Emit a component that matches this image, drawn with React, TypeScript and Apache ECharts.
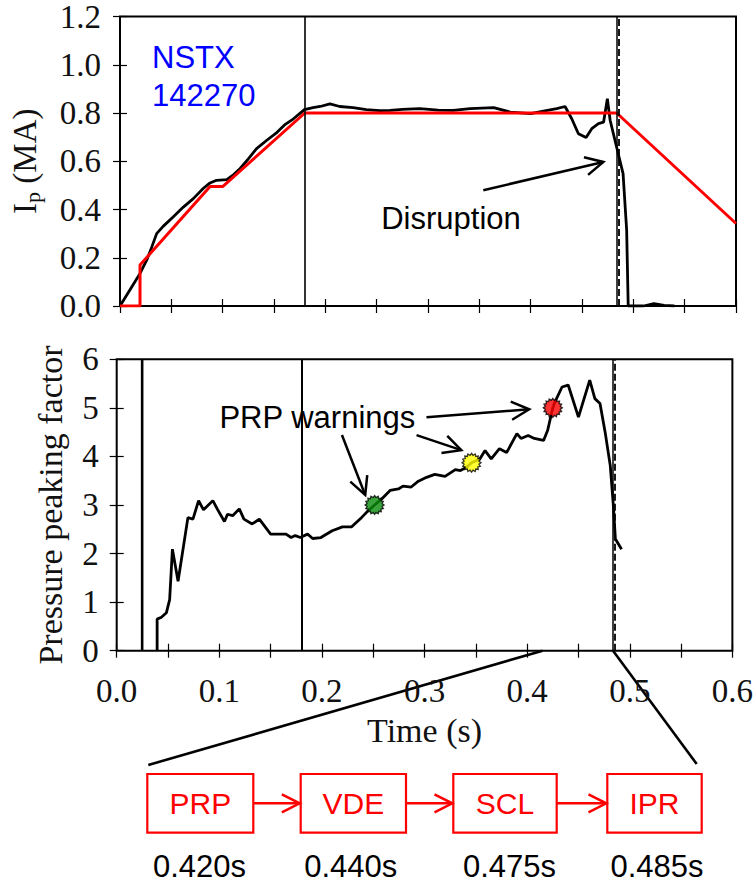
import React, { useEffect, useRef } from 'react';
import * as echarts from 'echarts';

// ---------- data ----------
// Measured plasma current Ip (MA) vs time (s)
const ipMeasured: [number, number][] = [
  [0, 0], [0.0195, 0.135], [0.026, 0.19], [0.031, 0.245], [0.0357, 0.3], [0.042, 0.33],
  [0.052, 0.37], [0.0617, 0.41], [0.0714, 0.445], [0.081, 0.487], [0.0877, 0.51],
  [0.094, 0.521], [0.104, 0.524], [0.11, 0.542], [0.117, 0.57], [0.125, 0.61],
  [0.133, 0.652], [0.143, 0.687], [0.153, 0.72], [0.161, 0.753], [0.169, 0.776],
  [0.1796, 0.814], [0.188, 0.822], [0.195, 0.827], [0.2045, 0.838], [0.214, 0.827],
  [0.227, 0.822], [0.24, 0.814], [0.253, 0.81], [0.263, 0.811], [0.275, 0.815],
  [0.292, 0.818], [0.31, 0.812], [0.3246, 0.811], [0.341, 0.818], [0.364, 0.822],
  [0.38, 0.804], [0.4, 0.797], [0.415, 0.81], [0.4254, 0.818], [0.4335, 0.827],
  [0.44, 0.776], [0.4465, 0.714], [0.454, 0.698], [0.4595, 0.735], [0.466, 0.756],
  [0.471, 0.762], [0.4747, 0.859], [0.4774, 0.77], [0.4837, 0.659], [0.49, 0.549],
  [0.4935, 0.314], [0.495, 0], [0.51, 0], [0.52, 0.01], [0.53, 0.003], [0.54, 0],
];
// Requested (programmed) Ip
const ipRequest: [number, number][] = [
  [0, 0], [0.0195, 0], [0.0195, 0.17], [0.0877, 0.495], [0.1, 0.495], [0.18, 0.8],
  [0.4838, 0.8], [0.6, 0.342],
];
// Pressure peaking factor vs time
const ppf: [number, number][] = [
  [0.0394, 0], [0.0394, 0.65], [0.0436, 0.69], [0.0484, 0.78], [0.0516, 1.05],
  [0.0543, 2.09], [0.0598, 1.43], [0.0694, 2.74], [0.0743, 2.71], [0.0798, 3.09],
  [0.0846, 2.9], [0.0937, 3.09], [0.0985, 2.9], [0.105, 2.66], [0.108, 2.81],
  [0.113, 2.78], [0.1195, 2.92], [0.124, 2.71], [0.132, 2.61], [0.139, 2.71],
  [0.15, 2.4], [0.165, 2.4], [0.17, 2.33], [0.174, 2.37], [0.179, 2.33], [0.186, 2.4],
  [0.191, 2.31], [0.199, 2.33], [0.21, 2.47], [0.22, 2.55], [0.229, 2.55], [0.239, 2.75],
  [0.245, 2.88], [0.2513, 3.0], [0.258, 3.12], [0.2664, 3.3], [0.2745, 3.33], [0.279, 3.39],
  [0.287, 3.37], [0.294, 3.49], [0.302, 3.57], [0.31, 3.63], [0.32, 3.59], [0.33, 3.73],
  [0.335, 3.71], [0.341, 3.78], [0.3458, 3.87], [0.354, 3.95], [0.359, 4.12], [0.365, 3.95],
  [0.373, 4.16], [0.38, 4.08], [0.39, 4.47], [0.394, 4.37], [0.401, 4.43], [0.407, 4.37],
  [0.416, 4.33], [0.42, 4.54], [0.425, 5.0], [0.427, 5.12], [0.434, 5.43], [0.44, 5.47],
  [0.45, 4.81], [0.461, 5.57], [0.466, 5.19], [0.471, 5.09], [0.476, 4.5], [0.481, 3.81],
  [0.484, 2.99], [0.486, 2.3], [0.492, 2.09],
];
const ppfSpike: [number, number][] = [[0.0248, 0], [0.0248, 6]];

const phaseTime = 0.18;
const disruptionTime = 0.4837;
const disruptionDashed = 0.4857;

const warningTimes = [0.2513, 0.3458, 0.425];
const warningValues = [3.0, 3.87, 5.0];

const flowLabels = ['PRP', 'VDE', 'SCL', 'IPR'];
const flowTimes = ['0.420s', '0.440s', '0.475s', '0.485s'];

const xTicks = { min: 0, max: 0.6, interval: 0.05 };
const ipTicks = { min: 0, max: 1.2, interval: 0.2 };
const ppfTicks = { min: 0, max: 6, interval: 1 };

// ---------- styles / layout ----------
const serif = "'Liberation Serif', 'DejaVu Serif', serif";
const sans = "'Liberation Sans', Arial, sans-serif";
const warnColors = ['#0a8c0a', '#ffff00', '#ff0000'];

const starPath = (() => {
  const n = 16;
  let d = '';
  for (let i = 0; i < 2 * n; i++) {
    const r = i % 2 ? 0.8 : 1;
    const a = (i * Math.PI) / n - Math.PI / 2;
    const x = 50 + 50 * r * Math.cos(a);
    const y = 50 + 50 * r * Math.sin(a);
    d += (i ? 'L' : 'M') + x.toFixed(2) + ' ' + y.toFixed(2);
  }
  return 'path://' + d + 'Z';
})();

const boxLeft = [147.3, 300.7, 453.3, 607.3];
const boxRight = [253.3, 406, 556.7, 701.7];
const boxTop = 774;
const boxBottom = 832.7;
const timeCenters = [199.5, 350.7, 509.5, 657];
const timeY = 866;

function arrow(p0: number[], p1: number[], color: string, width: number, head = 20, angDeg = 27) {
  const ang = (angDeg * Math.PI) / 180;
  const a = Math.atan2(p1[1] - p0[1], p1[0] - p0[0]);
  const w1 = [p1[0] - head * Math.cos(a - ang), p1[1] - head * Math.sin(a - ang)];
  const w2 = [p1[0] - head * Math.cos(a + ang), p1[1] - head * Math.sin(a + ang)];
  return [
    { type: 'line', silent: true, shape: { x1: p0[0], y1: p0[1], x2: p1[0], y2: p1[1] }, style: { stroke: color, lineWidth: width } },
    { type: 'polyline', silent: true, shape: { points: [w1, p1, w2] }, style: { stroke: color, lineWidth: width, fill: null } },
  ];
}

function txt(x: number, y: number, text: string, color: string, size: number, align = 'center', lineHeight?: number) {
  const style: any = { text, fill: color, fontSize: size, fontFamily: sans, align, textAlign: align, verticalAlign: 'middle', textVerticalAlign: 'middle' };
  if (lineHeight) style.lineHeight = lineHeight;
  return { type: 'text', silent: true, x, y, style };
}

const tickStyle = { show: true, inside: true, length: 7, lineStyle: { color: '#000', width: 1.2 } };
const labelStyle = { fontFamily: serif, fontSize: 33, color: '#111' };

function xAxis(gridIndex: number, position: string, showLabel: boolean, extra: any = {}) {
  return {
    type: 'value', gridIndex, position, ...xTicks,
    axisLine: { show: false }, splitLine: { show: false }, axisTick: tickStyle,
    axisLabel: showLabel
      ? { ...labelStyle, margin: 24, formatter: (v: number) => (Math.round(v * 100) % 10 === 0 ? v.toFixed(1) : '') }
      : { show: false },
    ...extra,
  };
}
function yAxis(gridIndex: number, position: string, ticks: any, showLabel: boolean, fmt: (v: number) => string, margin: number, extra: any = {}) {
  return {
    type: 'value', gridIndex, position, ...ticks,
    axisLine: { show: false }, splitLine: { show: false }, axisTick: tickStyle,
    axisLabel: showLabel ? { ...labelStyle, margin, formatter: fmt } : { show: false },
    ...extra,
  };
}

const vline = (x: number, width: number, type: any = 'solid') => ({ xAxis: x, lineStyle: { color: '#000', width, type } });

export default function App() {
  const ref = useRef<HTMLDivElement>(null);
  useEffect(() => {
    if (!ref.current) return;
    const chart = echarts.init(ref.current, null, { renderer: 'svg' });
    const markLineBase = { silent: true, symbol: ['none', 'none'], precision: 6, label: { show: false }, animation: false };
    const option: any = {
      animation: false,
      backgroundColor: '#fff',
      grid: [
        { show: true, left: 120, top: 16, width: 616, height: 290, borderColor: '#000', borderWidth: 2, backgroundColor: 'rgba(0,0,0,0)' },
        { show: true, left: 116.7, top: 359.3, width: 619.3, height: 291.4, borderColor: '#000', borderWidth: 2, backgroundColor: 'rgba(0,0,0,0)' },
      ],
      xAxis: [
        xAxis(0, 'bottom', false),
        xAxis(0, 'top', false),
        xAxis(1, 'bottom', true, {
          name: 'Time (s)', nameLocation: 'middle', nameGap: 63,
          nameTextStyle: { fontFamily: serif, fontSize: 34, color: '#111' },
        }),
        xAxis(1, 'top', false),
      ],
      yAxis: [
        yAxis(0, 'left', ipTicks, true, (v) => v.toFixed(1), 19, {
          name: '{i|I}{p|p}{r| (MA)}', nameLocation: 'middle', nameRotate: 90, nameGap: 77,
          nameTextStyle: {
            rich: {
              i: { fontFamily: serif, fontSize: 33, lineHeight: 36, verticalAlign: 'middle', color: '#111' },
              p: { fontFamily: serif, fontSize: 22, lineHeight: 22, verticalAlign: 'bottom', color: '#111' },
              r: { fontFamily: serif, fontSize: 33, lineHeight: 36, verticalAlign: 'middle', color: '#111' },
            },
          },
        }),
        yAxis(0, 'right', ipTicks, false, (v) => String(v), 0),
        yAxis(1, 'left', ppfTicks, true, (v) => String(v), 18, {
          name: 'Pressure peaking factor', nameLocation: 'middle', nameRotate: 90, nameGap: 49,
          nameTextStyle: { fontFamily: serif, fontSize: 34, color: '#111' },
        }),
        yAxis(1, 'right', ppfTicks, false, (v) => String(v), 0),
      ],
      series: [
        {
          type: 'line', name: 'Ip', xAxisIndex: 0, yAxisIndex: 0, data: ipMeasured, symbol: 'none',
          lineStyle: { color: '#000', width: 2.8 }, z: 3,
          markLine: { ...markLineBase, data: [vline(phaseTime, 1.6), vline(disruptionTime, 1.5), vline(disruptionDashed, 1.8, [7, 3])] },
        },
        {
          type: 'line', name: 'Ip request', xAxisIndex: 0, yAxisIndex: 0, data: ipRequest, symbol: 'none',
          lineStyle: { color: '#ff0000', width: 3 }, z: 4,
        },
        {
          type: 'line', name: 'PPF', xAxisIndex: 2, yAxisIndex: 2, data: ppf, symbol: 'none',
          lineStyle: { color: '#000', width: 2.8 }, z: 3,
          markLine: { ...markLineBase, data: [vline(phaseTime, 2), vline(disruptionTime, 1.5), vline(disruptionDashed, 1.8, [7, 3])] },
        },
        {
          type: 'line', name: 'PPF spike', xAxisIndex: 2, yAxisIndex: 2, data: ppfSpike, symbol: 'none',
          lineStyle: { color: '#000', width: 2.6 }, z: 3,
        },
        {
          type: 'scatter', name: 'PRP warnings', xAxisIndex: 2, yAxisIndex: 2, symbol: starPath, symbolSize: 19, z: 5,
          data: warningTimes.map((t, i) => ({ value: [t, warningValues[i]], itemStyle: { color: warnColors[i] } })),
          itemStyle: { borderColor: '#000', borderWidth: 1.3 },
        },
      ],
    };
    chart.setOption(option);

    const top = { xAxisIndex: 0, yAxisIndex: 0 };
    const bot = { xAxisIndex: 2, yAxisIndex: 2 };
    const px = (f: any, p: number[]) => chart.convertToPixel(f, p) as number[];

    const g: any[] = [];
    // annotations in data coordinates
    g.push(...arrow(px(top, [0.3539, 0.48]), px(top, [0.4708, 0.597]), '#000', 2.5));
    const dis = px(top, [0.3224, 0.364]);
    g.push(txt(dis[0], dis[1], 'Disruption', '#000', 31));
    const n1 = px(top, [0.0312, 1.028]);
    const n2 = px(top, [0.0312, 0.874]);
    g.push(txt(n1[0], n1[1], 'NSTX', '#0000ff', 31, 'left'));
    g.push(txt(n2[0], n2[1], '142270', '#0000ff', 31, 'left'));

    g.push(...arrow(px(bot, [0.2195, 4.44]), px(bot, [0.2422, 3.206]), '#000', 2.5));
    g.push(...arrow(px(bot, [0.2922, 4.44]), px(bot, [0.3358, 4.13]), '#000', 2.5));
    g.push(...arrow(px(bot, [0.3019, 4.805]), px(bot, [0.402, 4.97]), '#000', 2.5));
    const pw = px(bot, [0.1001, 4.81]);
    g.push(txt(pw[0], pw[1], 'PRP warnings', '#000', 31, 'left'));

    // zoom lines from the time axis to the flow diagram
    const z1 = px(bot, [0.415, 0]);
    const z2 = px(bot, [disruptionTime, 0]);
    g.push({ type: 'line', silent: true, shape: { x1: z1[0], y1: z1[1], x2: 148.3, y2: 765 }, style: { stroke: '#000', lineWidth: 2.6 } });
    g.push({ type: 'line', silent: true, shape: { x1: z2[0], y1: z2[1], x2: 696.7, y2: 764 }, style: { stroke: '#000', lineWidth: 2.6 } });

    // flow diagram
    const midY = (boxTop + boxBottom) / 2;
    flowLabels.forEach((lab, i) => {
      g.push({
        type: 'rect', silent: true,
        shape: { x: boxLeft[i], y: boxTop, width: boxRight[i] - boxLeft[i], height: boxBottom - boxTop },
        style: { fill: 'none', stroke: '#ff0000', lineWidth: 2.2 },
      });
      g.push(txt((boxLeft[i] + boxRight[i]) / 2, midY, lab, '#ff0000', 30));
      g.push(txt(timeCenters[i], timeY, flowTimes[i], '#000', 31, 'center', 26));
      if (i < flowLabels.length - 1) {
        g.push(...arrow([boxRight[i], midY], [boxLeft[i + 1] - 1, midY], '#ff0000', 2.5, 20, 27));
      }
    });

    chart.setOption({ graphic: g });
    return () => chart.dispose();
  }, []);
  return <div ref={ref} style={{ position: 'absolute', left: 0, top: 0, width: 756, height: 882 }} />;
}
